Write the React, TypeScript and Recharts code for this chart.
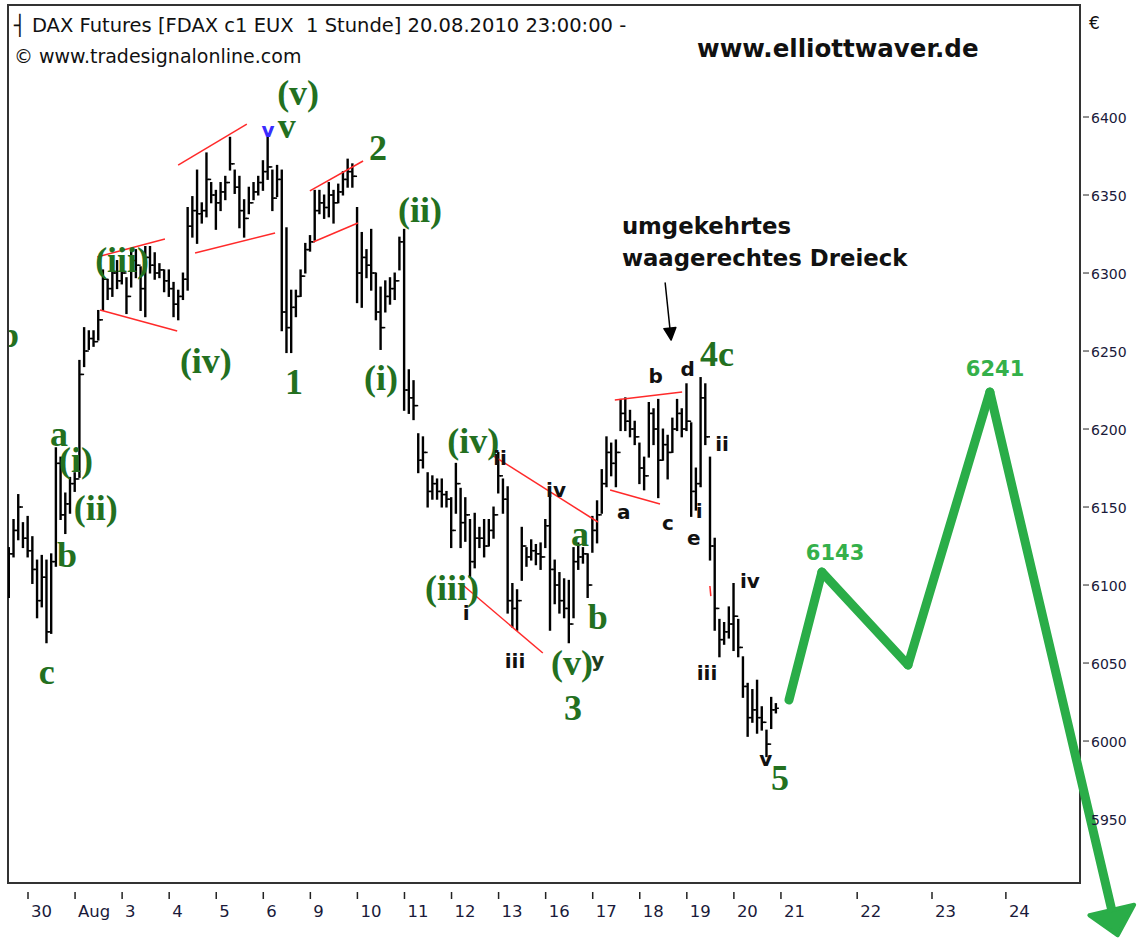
import React from 'react';
import { ComposedChart, Bar, XAxis, YAxis, ReferenceLine, ReferenceDot, ReferenceArea } from 'recharts';

// hourly FDAX bars (about ten per session)
const highs = [
  6124, 6142, 6158, 6140, 6144, 6131, 6116, 6119, 6116, 6120,
  6188, 6182, 6159, 6169, 6172, 6244, 6265, 6263, 6263, 6276,
  6302, 6296, 6305, 6308, 6306, 6297, 6315, 6315, 6304, 6317,
  6317, 6313, 6306, 6302, 6302, 6294, 6289, 6300, 6342, 6349,
  6366, 6345, 6377, 6358, 6353, 6358, 6362, 6387, 6366, 6362,
  6347, 6355, 6358, 6362, 6372, 6387, 6366, 6369, 6366, 6329,
  6289, 6289, 6302, 6319, 6324, 6353, 6353, 6350, 6358, 6353,
  6357, 6365, 6373, 6370, 6342, 6326, 6315, 6328, 6300, 6291,
  6295, 6297, 6300, 6323, 6328, 6238, 6231, 6197, 6195, 6172,
  6170, 6168, 6168, 6160, 6156, 6178, 6162, 6156, 6142, 6146,
  6137, 6142, 6142, 6150, 6185, 6168, 6163, 6101, 6097, 6137,
  6124, 6129, 6126, 6127, 6142, 6159, 6116, 6108, 6104, 6103,
  6124, 6127, 6124, 6120, 6144, 6154, 6174, 6195, 6191, 6193,
  6219, 6220, 6212, 6205, 6191, 6182, 6217, 6213, 6219, 6200,
  6196, 6207, 6219, 6213, 6229, 6204, 6175, 6233, 6229, 6182,
  6130, 6078, 6076, 6086, 6101, 6078, 6054, 6037, 6033, 6039,
  6022, 6007, 6028, 6024,
];
const lows = [
  6092, 6118, 6129, 6124, 6118, 6101, 6079, 6086, 6063, 6069,
  6112, 6142, 6133, 6146, 6160, 6169, 6240, 6251, 6253, 6257,
  6276, 6283, 6285, 6290, 6293, 6274, 6291, 6297, 6276, 6272,
  6300, 6296, 6297, 6288, 6285, 6272, 6270, 6283, 6289, 6323,
  6319, 6332, 6336, 6345, 6328, 6340, 6347, 6366, 6351, 6329,
  6323, 6338, 6347, 6350, 6353, 6360, 6340, 6349, 6263, 6249,
  6249, 6272, 6285, 6300, 6314, 6321, 6338, 6335, 6336, 6332,
  6345, 6350, 6355, 6355, 6281, 6278, 6297, 6289, 6270, 6251,
  6275, 6280, 6283, 6302, 6212, 6210, 6206, 6172, 6175, 6150,
  6155, 6155, 6150, 6150, 6124, 6146, 6124, 6128, 6105, 6111,
  6124, 6118, 6125, 6130, 6159, 6146, 6082, 6073, 6071, 6103,
  6112, 6116, 6113, 6110, 6124, 6071, 6088, 6082, 6079, 6063,
  6079, 6110, 6114, 6092, 6121, 6127, 6146, 6163, 6170, 6163,
  6199, 6199, 6195, 6190, 6165, 6161, 6182, 6190, 6156, 6180,
  6168, 6185, 6199, 6195, 6199, 6144, 6148, 6163, 6190, 6116,
  6071, 6054, 6062, 6066, 6058, 6054, 6028, 6003, 6012, 6005,
  6007, 5990, 6008, 6018,
];
const closes = [
  6120, 6135, 6150, 6130, 6122, 6110, 6090, 6105, 6070, 6115,
  6178, 6145, 6152, 6165, 6168, 6235, 6250, 6258, 6256, 6270,
  6296, 6290, 6300, 6295, 6300, 6285, 6308, 6305, 6290, 6310,
  6305, 6300, 6302, 6295, 6290, 6280, 6285, 6296, 6330, 6340,
  6338, 6340, 6360, 6350, 6345, 6352, 6358, 6370, 6355, 6340,
  6335, 6345, 6352, 6358, 6365, 6368, 6348, 6360, 6275, 6265,
  6278, 6285, 6298, 6315, 6320, 6340, 6345, 6342, 6350, 6345,
  6352, 6360, 6365, 6362, 6300, 6310, 6305, 6300, 6275, 6265,
  6285, 6290, 6295, 6320, 6225, 6220, 6215, 6180, 6185, 6160,
  6165, 6160, 6158, 6155, 6135, 6165, 6140, 6145, 6115, 6130,
  6130, 6125, 6135, 6145, 6170, 6155, 6090, 6085, 6090, 6125,
  6118, 6122, 6120, 6118, 6138, 6110, 6100, 6090, 6085, 6075,
  6115, 6118, 6120, 6100, 6135, 6145, 6165, 6185, 6178, 6185,
  6210, 6205, 6200, 6195, 6175, 6170, 6210, 6200, 6180, 6190,
  6185, 6200, 6210, 6200, 6205, 6160, 6165, 6220, 6195, 6125,
  6085, 6065, 6070, 6075, 6080, 6060, 6035, 6015, 6020, 6015,
  6012, 5998, 6020, 6021,
];

const dayTicks = [4, 14, 24, 34, 44, 54, 64, 74, 84, 94, 104, 114, 124, 134, 144, 154, 164, 180.2, 196.1, 211.8];
const dayLabels = ['30', 'Aug', '3', '4', '5', '6', '9', '10', '11', '12', '13', '16', '17', '18', '19', '20', '21', '22', '23', '24'];
const priceTicks = [5950, 6000, 6050, 6100, 6150, 6200, 6250, 6300, 6350, 6400];

// [text, bar index, price] – green wave counts
const waveLabels: [string, number, number][] = [
  ['(v)', 61.4, 6407.7], ['v', 59.0, 6386.5], ['2', 78.4, 6372.4], ['(ii)', 87.3, 6332.7],
  ['(iii)', 24.0, 6300.6], ['(iv)', 41.8, 6235.9], ['1', 60.5, 6222.4], ['(i)', 79.0, 6225],
  ['a', 10.6, 6189.1], ['(i)', 14.2, 6172.4], ['(ii)', 18.4, 6141.7], ['b', 12.3, 6111.5],
  ['c', 8.0, 6036.5], ['(iv)', 98.6, 6184.6], ['(iii)', 94.1, 6090.4], ['a', 121.3, 6125],
  ['b', 125.1, 6071.8], ['(v)', 119.6, 6042.3], ['3', 119.8, 6013.5], ['4c', 150.4, 6240.4],
  ['5', 163.8, 5968.6],
];
// small black sub-wave counts
const subLabels: [string, number, number][] = [
  ['i', 97.1, 6077.6], ['ii', 104.3, 6176.9], ['iii', 107.5, 6046.8], ['iv', 116.2, 6156.4],
  ['a', 130.6, 6142.3], ['b', 137.4, 6229.5], ['c', 140.0, 6135.3], ['d', 144.2, 6234],
  ['e', 145.5, 6125.6], ['i', 146.6, 6142.9], ['ii', 151.5, 6185.9], ['iii', 148.3, 6039],
  ['iv', 157.4, 6098.1], ['v', 160.8, 5984],
];
const extraLabels: [string, number, number, string][] = [
  ['v', 55.0, 6387.2, '#3a2cff'], ['y', 125.1, 6047.4, '#1d3d1d'],
];
const targetLabels: [string, number, number][] = [['6143', 175.5, 6116], ['6241', 209.5, 6234]];
const noteLines: [string, number, number][] = [['umgekehrtes', 130.2, 6325], ['waagerechtes Dreieck', 130.2, 6304.5]];
const noteArrow = [[139.4, 6293.6], [140.4, 6264.7]];

// red channel lines [x1, y1, x2, y2]
const channels = [
  [18.7, 6310.3, 33.1, 6321.8], [19.3, 6276.3, 35.7, 6262.8],
  [35.9, 6369.2, 50.5, 6395.5], [39.5, 6312.8, 56.5, 6325.6],
  [63.9, 6352.6, 75.2, 6371.8], [64.6, 6319.9, 74.1, 6332.1],
  [102.6, 6183.3, 125.1, 6140.4], [96.4, 6100, 113.4, 6056.4],
  [128.7, 6218.6, 143.0, 6223.7], [127.7, 6160.9, 138.3, 6151.9],
  [148.9, 6099.4, 149.1, 6092.9],
];

// projected path
const forecast = [[165.7, 6026.3], [172.7, 6108.3], [191.0, 6048.7], [208.4, 6223.7], [234.3, 5891.7]];

const rows = highs.map((h, i) => ({
  i, high: h, low: lows[i], close: closes[i], open: i ? closes[i - 1] : closes[i],
}));

const GREEN = '#23701f';
const FORE = '#2aad48';
const SANS = "'DejaVu Sans', sans-serif";
const SERIF = "'Liberation Serif', serif";

function OhlcBar(props: any) {
  const { x, y, width, height, payload } = props;
  const cx = x + width / 2;
  const span = payload.high - payload.low || 1;
  const yc = y + ((payload.high - payload.close) / span) * height;
  const yo = y + ((payload.high - payload.open) / span) * height;
  return (
    <g stroke="#000">
      <line x1={cx} x2={cx} y1={y - 0.5} y2={y + height + 0.5} strokeWidth={2.4} />
      <line x1={cx - 3} x2={cx} y1={yo} y2={yo} strokeWidth={1.5} />
      <line x1={cx} x2={cx + 3} y1={yc} y2={yc} strokeWidth={1.5} />
    </g>
  );
}

function XTick(props: any) {
  const { x, y, payload } = props;
  const k = dayTicks.indexOf(payload.value);
  return (
    <g>
      <line x1={x} x2={x} y1={y + 9} y2={y + 16} stroke="#222" strokeWidth={1.5} />
      <text x={x + 3} y={y + 34} fontFamily={SANS} fontSize={16.5} fill="#1a1a3a">{dayLabels[k]}</text>
    </g>
  );
}

function YTick(props: any) {
  const { x, y, payload } = props;
  return (
    <g>
      {payload.value !== 5950 && <line x1={x + 3} x2={x + 9} y1={y} y2={y} stroke="#222" strokeWidth={1} />}
      <text x={x + 11} y={y + 5.5} fontFamily={SANS} fontSize={14} fill="#1a1a3a">{payload.value}</text>
    </g>
  );
}

const textAt = (t: string, style: any) => (p: any) => (
  <text x={p.cx} y={p.cy} {...style}>{t}</text>
);

// label cut off by the left frame edge
const clippedText = (t: string, style: any) => (p: any) => (
  <g>
    <defs>
      <clipPath id="leftCut">
        <rect x={9} y={p.cy - 40} width={40} height={60} />
      </clipPath>
    </defs>
    <text x={p.cx} y={p.cy} clipPath="url(#leftCut)" {...style}>{t}</text>
  </g>
);

function ArrowLine(head: number, half: number, color: string, width: number) {
  return (p: any) => {
    const { x1, y1, x2, y2 } = p;
    const len = Math.hypot(x2 - x1, y2 - y1) || 1;
    const ux = (x2 - x1) / len;
    const uy = (y2 - y1) / len;
    const tip = [x2 + ux * head, y2 + uy * head];
    const w1 = [x2 - uy * half, y2 + ux * half];
    const w2 = [x2 + uy * half, y2 - ux * half];
    return (
      <g>
        <line x1={x1} y1={y1} x2={x2} y2={y2} stroke={color} strokeWidth={width} strokeLinecap="round" />
        <polygon points={`${tip[0]},${tip[1]} ${w1[0]},${w1[1]} ${w2[0]},${w2[1]}`} fill={color} stroke={color} strokeWidth={Math.min(width, 4)} strokeLinejoin="round" />
      </g>
    );
  };
}

export default function App() {
  const last = forecast.length - 1;
  return (
    <div style={{ position: 'absolute', left: 0, top: 0, width: 1144, height: 939, background: '#fff' }}>
      <ComposedChart width={1144} height={939} data={rows} margin={{ top: 5, right: 0, bottom: 0, left: 8 }}>
        <XAxis dataKey="i" type="number" domain={[-0.25, 227.55]} ticks={dayTicks} allowDataOverflow interval={0}
          height={56} tickLine={false} axisLine={false} tickSize={0} tickMargin={0} tick={<XTick />} />
        <YAxis orientation="right" type="number" domain={[5909, 6471.8]} ticks={priceTicks} allowDataOverflow interval={0}
          width={64} tickLine={false} axisLine={false} tickSize={0} tickMargin={0} tick={<YTick />} />
        <ReferenceArea x1={-0.25} x2={227.55} y1={5909} y2={6471.8} fill="none" fillOpacity={0} stroke="#333" strokeWidth={2} ifOverflow="visible" />
        <Bar dataKey={(d: any) => [d.low, d.high]} barSize={2} shape={<OhlcBar />} isAnimationActive={false} />
        {channels.map((c, k) => (
          <ReferenceLine key={'r' + k} segment={[{ x: c[0], y: c[1] }, { x: c[2], y: c[3] }]} stroke="#ff2a2a" strokeWidth={1.5} ifOverflow="visible" />
        ))}
        {waveLabels.map(([t, x, y], k) => (
          <ReferenceDot key={'w' + k} x={x} y={y} r={0} ifOverflow="visible"
            shape={textAt(t, { textAnchor: 'middle', fontFamily: SERIF, fontWeight: 'bold', fontSize: 36, fill: GREEN })} />
        ))}
        <ReferenceDot x={-2.16} y={6252.6} r={0} ifOverflow="visible"
          shape={clippedText('b', { fontFamily: SERIF, fontWeight: 'bold', fontSize: 36, fill: GREEN })} />
        {subLabels.map(([t, x, y], k) => (
          <ReferenceDot key={'s' + k} x={x} y={y} r={0} ifOverflow="visible"
            shape={textAt(t, { textAnchor: 'middle', fontFamily: SANS, fontWeight: 'bold', fontSize: 20, fill: '#111' })} />
        ))}
        {extraLabels.map(([t, x, y, col], k) => (
          <ReferenceDot key={'e' + k} x={x} y={y} r={0} ifOverflow="visible"
            shape={textAt(t, { textAnchor: 'middle', fontFamily: SANS, fontWeight: 'bold', fontSize: 20, fill: col })} />
        ))}
        {noteLines.map(([t, x, y], k) => (
          <ReferenceDot key={'n' + k} x={x} y={y} r={0} ifOverflow="visible"
            shape={textAt(t, { fontFamily: SANS, fontWeight: 'bold', fontSize: 22.8, fill: '#111' })} />
        ))}
        <ReferenceLine segment={[{ x: noteArrow[0][0], y: noteArrow[0][1] }, { x: noteArrow[1][0], y: noteArrow[1][1] }]}
          ifOverflow="visible" shape={ArrowLine(12, 6, '#000', 1.5)} />
        {forecast.slice(0, last).map((p, k) => (
          <ReferenceLine key={'f' + k} segment={[{ x: p[0], y: p[1] }, { x: forecast[k + 1][0], y: forecast[k + 1][1] }]}
            ifOverflow="visible" stroke={FORE} strokeWidth={9} strokeLinecap="round"
            shape={k === last - 1 ? ArrowLine(26, 23, FORE, 9) : undefined} />
        ))}
        {targetLabels.map(([t, x, y], k) => (
          <ReferenceDot key={'t' + k} x={x} y={y} r={0} ifOverflow="visible"
            shape={textAt(t, { textAnchor: 'middle', fontFamily: SANS, fontWeight: 'bold', fontSize: 21, fill: '#34b04a' })} />
        ))}
      </ComposedChart>
      <svg width={1144} height={939} style={{ position: 'absolute', left: 0, top: 0, pointerEvents: 'none' }}>
        <text x={14} y={32} fontFamily={SANS} fontSize={19.5} fill="#111" style={{ whiteSpace: 'pre' }}>
          {'┤ DAX Futures [FDAX c1 EUX  1 Stunde] 20.08.2010 23:00:00 -'}
        </text>
        <text x={14} y={63} fontFamily={SANS} fontSize={19} fill="#111">© www.tradesignalonline.com</text>
        <text x={697} y={57} fontFamily={SANS} fontWeight="bold" fontSize={24.5} fill="#111">www.elliottwaver.de</text>
        <text x={1089} y={29} fontFamily={SANS} fontSize={17} fill="#111">€</text>
      </svg>
    </div>
  );
}
